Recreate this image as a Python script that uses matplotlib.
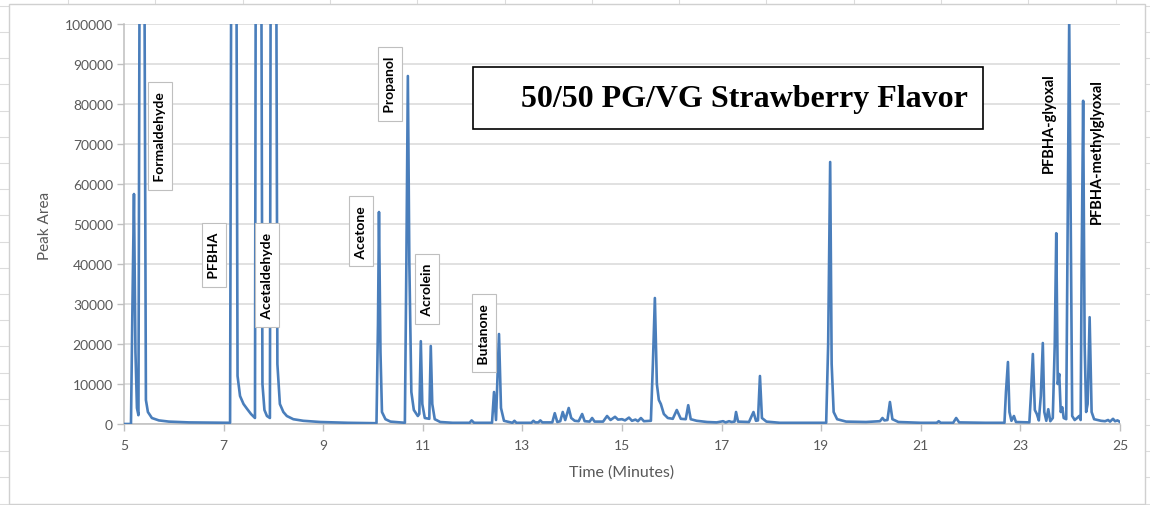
import matplotlib.pyplot as plt
from matplotlib.lines import Line2D
from matplotlib.patches import Rectangle

# chromatogram trace (minutes, peak area)
time_min = [
    5.00, 5.14, 5.17, 5.20, 5.23, 5.26, 5.29, 5.32, 5.40, 5.44,
    5.48, 5.56, 5.70, 5.90, 6.30, 7.00, 7.13, 7.16, 7.25, 7.28,
    7.33, 7.40, 7.47, 7.55, 7.63, 7.65, 7.75, 7.78, 7.82, 7.87,
    7.93, 7.95, 8.05, 8.08, 8.13, 8.20, 8.27, 8.40, 8.60, 8.94,
    9.50, 10.07, 10.10, 10.12, 10.15, 10.18, 10.25, 10.35, 10.64, 10.67,
    10.70, 10.73, 10.77, 10.82, 10.90, 10.93, 10.96, 10.99, 11.04, 11.13,
    11.16, 11.19, 11.24, 11.35, 11.60, 11.94, 11.98, 12.03, 12.39, 12.43,
    12.47, 12.53, 12.57, 12.63, 12.80, 12.84, 12.88, 13.18, 13.22, 13.26,
    13.32, 13.36, 13.40, 13.60, 13.65, 13.70, 13.76, 13.81, 13.86, 13.93,
    13.98, 14.05, 14.13, 14.20, 14.25, 14.35, 14.40, 14.45, 14.62, 14.70,
    14.77, 14.86, 14.92, 15.00, 15.06, 15.14, 15.20, 15.27, 15.32, 15.38,
    15.44, 15.58, 15.62, 15.66, 15.70, 15.74, 15.78, 15.84, 15.92, 16.02,
    16.10, 16.18, 16.28, 16.33, 16.38, 16.50, 16.71, 16.90, 17.03, 17.08,
    17.15, 17.20, 17.26, 17.29, 17.33, 17.55, 17.64, 17.69, 17.73, 17.77,
    17.81, 17.90, 18.17, 18.70, 19.10, 19.14, 19.18, 19.21, 19.25, 19.32,
    19.50, 19.90, 20.18, 20.23, 20.27, 20.33, 20.38, 20.43, 20.55, 21.00,
    21.32, 21.36, 21.40, 21.65, 21.71, 21.77, 22.30, 22.68, 22.71, 22.75,
    22.78, 22.82, 22.87, 22.91, 23.18, 23.21, 23.25, 23.29, 23.33, 23.37,
    23.41, 23.45, 23.48, 23.52, 23.56, 23.60, 23.65, 23.69, 23.72, 23.75,
    23.78, 23.81, 23.84, 23.87, 23.92, 23.95, 23.98, 24.01, 24.04, 24.09,
    24.14, 24.18, 24.21, 24.23, 24.26, 24.29, 24.32, 24.35, 24.39, 24.43,
    24.48, 24.55, 24.62, 24.70, 24.76, 24.80, 24.86, 24.90, 24.95, 25.00,
]
peak_area = [
    0, 0, 30000, 57500, 18000, 4000, 2200, 150000, 150000, 6000,
    3000, 1500, 900, 600, 400, 300, 300, 150000, 150000, 12000,
    7000, 5000, 3800, 2500, 1500, 150000, 150000, 10000, 3500, 2000,
    1500, 150000, 150000, 15000, 5000, 3000, 2000, 1200, 800, 500,
    300, 200, 25000, 53000, 18000, 3000, 1200, 600, 300, 40000,
    87000, 40000, 8000, 3500, 2000, 2500, 20700, 5000, 1500, 1300,
    19500, 5000, 1200, 500, 300, 300, 900, 300, 300, 8000,
    1000, 22500, 4000, 800, 300, 800, 300, 300, 800, 400,
    400, 900, 400, 400, 2700, 500, 700, 3000, 1000, 4000,
    1500, 800, 700, 2500, 700, 600, 1500, 600, 600, 2000,
    1000, 1800, 1100, 1200, 900, 1600, 800, 1100, 700, 1500,
    700, 800, 15000, 31500, 10000, 6000, 5000, 2500, 1500, 1300,
    3500, 1300, 1200, 4700, 1200, 800, 500, 400, 700, 400,
    700, 500, 600, 3000, 600, 500, 3000, 800, 900, 12000,
    1500, 600, 300, 300, 300, 20000, 65500, 15000, 3000, 1200,
    600, 500, 700, 1500, 900, 1000, 5500, 1200, 500, 300,
    300, 700, 300, 300, 1500, 400, 300, 300, 8000, 15500,
    3000, 800, 2000, 500, 400, 7000, 17500, 3500, 2500, 900,
    7000, 20250, 3000, 800, 3700, 700, 1500, 20000, 47700, 10000,
    12500, 3000, 4200, 1500, 1200, 50000, 101000, 50000, 2000, 1000,
    1500, 2000, 1000, 40000, 80800, 20000, 3000, 5000, 26700, 3000,
    1200, 1000, 800, 700, 1000, 600, 1300, 700, 900, 500,
]

x_ticks = [5, 7, 9, 11, 13, 15, 17, 19, 21, 23, 25]
y_ticks = [0, 10000, 20000, 30000, 40000, 50000, 60000, 70000, 80000, 90000, 100000]

compounds = ['Formaldehyde', 'PFBHA', 'Acetaldehyde', 'Acetone', 'Propanol',
             'Acrolein', 'Butanone', 'PFBHA-glyoxal', 'PFBHA-methylglyoxal']
title = '50/50 PG/VG Strawberry Flavor'

# where each label sits (minutes, area) and whether it has a box
label_xy = [(5.72, 72000), (6.81, 42250), (7.87, 37250), (9.76, 48250), (10.34, 85000),
            (11.08, 33750), (12.23, 22750), (23.57, 75500), (24.54, 68250)]
boxed = [True, True, True, True, True, True, True, False, False]

W, H = 1150, 506
plt.rcParams['font.family'] = ['Lato', 'DejaVu Sans']
fig = plt.figure(figsize=(W / 100, H / 100), dpi=100)
fig.patch.set_facecolor('white')

# spreadsheet cells behind the chart object
for k in range(14):
    x = (68 + 87.3 * k) / W
    fig.add_artist(Line2D([x, x], [0, 1], color='#dcdcdc', lw=0.8, zorder=-3))
for k in range(20):
    y = 1 - (6.8 + 26.2 * k) / H
    fig.add_artist(Line2D([0, 1], [y, y], color='#dcdcdc', lw=0.8, zorder=-3))
fig.add_artist(Rectangle((9 / W, 1 - 505 / H), 1136 / W, 500 / H, transform=fig.transFigure,
                         facecolor='white', edgecolor='#d0d0d0', lw=1, zorder=-1))

ax = fig.add_axes([124 / W, 81 / H, 996 / W, 400 / H])
ax.set_facecolor('white')
ax.plot(time_min, peak_area, color='#4A7EBB', lw=1.9, solid_joinstyle='round', zorder=3)

ax.set_xlim(5, 25)
ax.set_ylim(0, 100000)
ax.set_xticks(x_ticks)
ax.set_yticks(y_ticks)
ax.set_yticklabels([str(v) for v in y_ticks])
ax.yaxis.grid(True, color='#d9d9d9', lw=1.1)
ax.set_axisbelow(True)
for side in ['top', 'right']:
    ax.spines[side].set_visible(False)
for side in ['left', 'bottom']:
    ax.spines[side].set_color('#bfbfbf')
    ax.spines[side].set_linewidth(1.1)
ax.tick_params(axis='both', color='#bfbfbf', labelcolor='#595959', labelsize=10, length=5, width=1)
ax.tick_params(axis='y', pad=3)
ax.tick_params(axis='x', pad=6)

fig.text(45 / W, 1 - 226 / H, 'Peak Area', rotation=90, ha='center', va='center',
         fontsize=11, color='#595959')
fig.text(622 / W, 1 - 473 / H, 'Time (Minutes)', ha='center', va='center',
         fontsize=11.5, color='#595959')

# title box
ax.add_patch(Rectangle((0.3504, 0.7375), 0.512, 0.155, transform=ax.transAxes,
                       facecolor='white', edgecolor='black', lw=1.2, zorder=6))
ax.text(0.6225, 0.815, title, transform=ax.transAxes, ha='center', va='center',
        fontsize=23, fontweight='bold', family='Liberation Serif', zorder=7)

for name, (tx, ty), has_box in zip(compounds, label_xy, boxed):
    if has_box:
        box = dict(boxstyle='square,pad=0.42', facecolor='white', edgecolor='#bfbfbf', lw=0.8)
        ax.text(tx, ty, ' ' + name + ' ', rotation=90, ha='center', va='center', fontsize=10,
                fontweight='bold', bbox=box, zorder=5)
    else:
        ax.text(tx, ty, name, rotation=90, ha='center', va='center', fontsize=10.5,
                fontweight='bold', zorder=5)

fig.savefig('out.png', dpi=100)
